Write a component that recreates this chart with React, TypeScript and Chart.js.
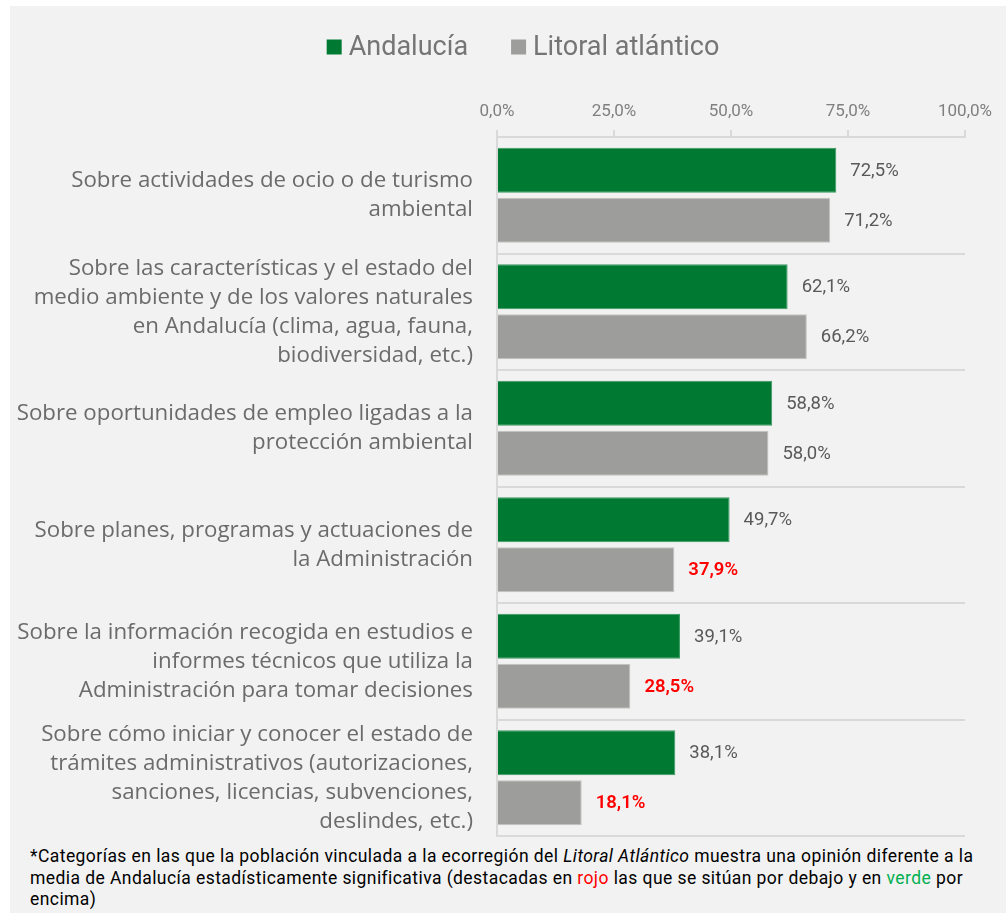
import React, { useEffect, useRef } from 'react';
import { Chart, registerables } from 'chart.js';

Chart.register(...registerables);

const categories: string[][] = [
  ['Sobre actividades de ocio o de turismo', 'ambiental'],
  ['Sobre las características y el estado del', 'medio ambiente y de los valores naturales', 'en Andalucía (clima, agua, fauna,', 'biodiversidad, etc.)'],
  ['Sobre oportunidades de empleo ligadas a la', 'protección ambiental'],
  ['Sobre planes, programas y actuaciones de', 'la Administración'],
  ['Sobre la información recogida en estudios e', 'informes técnicos que utiliza la', 'Administración para tomar decisiones'],
  ['Sobre cómo iniciar y conocer el estado de', 'trámites administrativos (autorizaciones,', 'sanciones, licencias, subvenciones,', 'deslindes, etc.)'],
];

const seriesNames = ['Andalucía', 'Litoral atlántico'];
const andalucia = [72.5, 62.1, 58.8, 49.7, 39.1, 38.1];
const litoral = [71.2, 66.2, 58.0, 37.9, 28.5, 18.1];
// '' = no significant difference, 'below' = red, 'above' = green
const litoralSignificance = ['', '', '', 'below', 'below', 'below'];
const xTickStep = 25;
const xMin = 0;
const xMax = 100;

const FONT = 'Roboto';
const LABEL_FONT = '"Open Sans"';
const fmt = (v: number) => v.toFixed(1).replace('.', ',') + '%';

const customLegend = {
  id: 'customLegend',
  afterDraw(chart: any) {
    const ctx = chart.ctx;
    const box = 15;
    const gap = 7;
    const spacing = 43;
    ctx.save();
    ctx.font = `400 27px ${FONT}`;
    const items = chart.data.datasets.map((ds: any) => ({
      text: ds.label,
      color: ds.backgroundColor,
      w: box + gap + ctx.measureText(ds.label).width,
    }));
    const total = items.reduce((s: number, it: any) => s + it.w, 0) + spacing * (items.length - 1);
    let x = chart.width / 2 + 15 - total / 2;
    const cy = 41;
    items.forEach((it: any) => {
      ctx.fillStyle = it.color;
      ctx.fillRect(x, cy - box / 2, box, box);
      ctx.fillStyle = '#757575';
      ctx.textAlign = 'left';
      ctx.textBaseline = 'middle';
      ctx.fillText(it.text, x + box + gap, cy + 1);
      x += it.w + spacing;
    });
    ctx.restore();
  },
};

const valueLabels = {
  id: 'valueLabels',
  afterDatasetsDraw(chart: any) {
    const ctx = chart.ctx;
    chart.data.datasets.forEach((ds: any, di: number) => {
      const meta = chart.getDatasetMeta(di);
      meta.data.forEach((bar: any, i: number) => {
        const v = ds.data[i];
        const sig = di === 1 ? litoralSignificance[i] : '';
        ctx.save();
        ctx.font = `${sig ? 600 : 400} 18.5px ${FONT}`;
        ctx.fillStyle = sig === 'below' ? '#ff0000' : sig === 'above' ? '#00b050' : '#595959';
        ctx.textAlign = 'left';
        ctx.textBaseline = 'middle';
        ctx.fillText(fmt(v), bar.x + 14, bar.y + 1);
        ctx.restore();
      });
    });
  },
};

function BarChart() {
  const ref = useRef<HTMLCanvasElement | null>(null);
  useEffect(() => {
    if (!ref.current) return;
    const chart = new Chart(ref.current, {
      type: 'bar',
      data: {
        labels: categories,
        datasets: [
          {
            label: seriesNames[0],
            data: andalucia,
            backgroundColor: '#007a33',
            borderColor: '#3c9a62',
            borderWidth: 1,
            categoryPercentage: 0.86,
            barPercentage: 0.9,
          },
          {
            label: seriesNames[1],
            data: litoral,
            backgroundColor: '#9d9d9b',
            borderColor: '#c4c4c2',
            borderWidth: 1,
            categoryPercentage: 0.86,
            barPercentage: 0.9,
          },
        ],
      },
      options: {
        indexAxis: 'y',
        animation: false,
        responsive: false,
        devicePixelRatio: 1,
        layout: { padding: { left: 0, right: 41, top: 78, bottom: 9 } },
        plugins: {
          tooltip: { enabled: false },
          legend: { display: false },
        },
        scales: {
          x: {
            position: 'top',
            min: xMin,
            max: xMax,
            ticks: {
              stepSize: xTickStep,
              color: '#7f7f7f',
              font: { family: FONT, size: 17 },
              padding: 8,
              callback: (v: any) => fmt(Number(v)),
            },
            grid: {
              drawOnChartArea: false,
              drawTicks: true,
              tickLength: 7,
              color: '#d9d9d9',
              lineWidth: 2,
            },
            border: { display: true, color: '#d9d9d9', width: 2 },
            afterFit: (scale: any) => {
              scale.height = 53;
              scale.paddingLeft = 0;
              scale.paddingRight = 0;
            },
          },
          y: {
            ticks: {
              autoSkip: false,
              color: '#6b6b6b',
              font: { family: LABEL_FONT, size: 22.3, lineHeight: 1.3 },
              padding: 24,
            },
            grid: {
              color: '#d9d9d9',
              lineWidth: 2,
              drawTicks: false,
            },
            border: { display: true, color: '#d9d9d9', width: 2 },
            afterFit: (scale: any) => {
              scale.width = 487;
              scale.paddingTop = 0;
              scale.paddingBottom = 0;
            },
          },
        },
      },
      plugins: [valueLabels, customLegend],
    } as any);
    return () => chart.destroy();
  }, []);
  return <canvas ref={ref} width={996} height={839} style={{ display: 'block', width: 996, height: 839 }} />;
}

export default function App() {
  return (
    <div
      style={{
        position: 'absolute',
        left: 10,
        top: 6,
        width: 996,
        height: 907,
        background: '#f2f2f2',
        overflow: 'hidden',
      }}
    >
      <BarChart />
      <div
        style={{
          position: 'absolute',
          left: 20,
          top: 840,
          fontFamily: FONT,
          fontSize: 17.5,
          letterSpacing: '0.43px',
          lineHeight: '21.5px',
          color: '#000',
          whiteSpace: 'nowrap',
        }}
      >
        *Categorías en las que la población vinculada a la ecorregión del <i>Litoral Atlántico</i> muestra una opinión diferente a la
        <br />
        media de Andalucía estadísticamente significativa (destacadas en <span style={{ color: '#ff0000' }}>rojo</span> las que se sitúan por debajo y en <span style={{ color: '#00b050' }}>verde</span> por
        <br />
        encima)
      </div>
    </div>
  );
}
